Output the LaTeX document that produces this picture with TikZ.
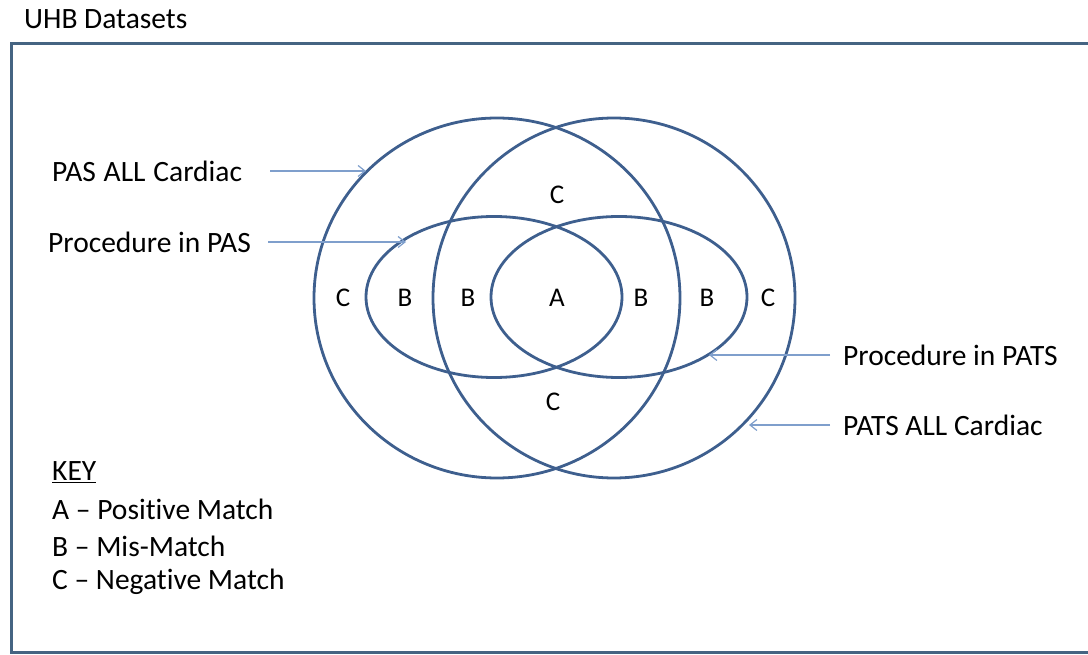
\documentclass[tikz,border=0pt]{standalone}
\usepackage{fontspec}
\setmainfont{Carlito}[Ligatures={NoCommon}]
\usetikzlibrary{arrows.meta,shapes.geometric}
\definecolor{vline}{HTML}{3E5F8E}
\definecolor{frameblue}{HTML}{456482}
\definecolor{arrblue}{HTML}{7F9FCC}
\begin{document}
\begin{tikzpicture}[x=1pt,y=-1pt,
  venn/.style={draw=vline,line width=2.8pt,ellipse,inner sep=0pt},
  lbl/.style={font=\fontsize{29.5}{34}\selectfont,anchor=west,inner sep=0pt},
  reg/.style={font=\fontsize{27}{30}\selectfont,inner sep=0pt},
  pointer/.style={draw=arrblue,line width=1.2pt,-{Straight Barb[length=7pt,width=11pt]}}]
\useasboundingbox (0,0) rectangle (1088,655);
\draw[frameblue,line width=3pt] (1095,44) -- (11,44) -- (11,652) -- (1095,652);
\node[lbl] (title) at (24,19) {UHB Datasets};
% Venn ellipses
\node[venn,minimum width=366pt,minimum height=360pt] (pasall) at (497,298) {};
\node[venn,minimum width=362pt,minimum height=360pt] (patsall) at (614,298) {};
\node[venn,minimum width=256pt,minimum height=161pt] (procpas) at (494,297) {};
\node[venn,minimum width=256pt,minimum height=161pt] (procpats) at (619,297) {};
% region labels
\node[reg] (ctop) at (557,195) {C};
\node[reg] (cbot) at (553,402) {C};
\node[reg] (c1) at (343,298) {C};
\node[reg] (b1) at (405,298) {B};
\node[reg] (b2) at (468,298) {B};
\node[reg] (a) at (557,298) {A};
\node[reg] (b3) at (641,298) {B};
\node[reg] (b4) at (707,298) {B};
\node[reg] (c2) at (768,298) {C};
% side labels
\node[lbl] (l1) at (52,171) {PAS\hspace{0.04em} ALL\hspace{0.04em} Cardiac};
\node[lbl] (l2) at (48,242) {Procedure in PAS};
\node[lbl] (l3) at (843,355) {Procedure in PATS};
\node[lbl] (l4) at (843,425) {PATS ALL Cardiac};
\coordinate (t1) at (366,171);
\coordinate (t2) at (406,242);
\coordinate (t3) at (709,355);
\coordinate (t4) at (749,425);
\draw[pointer] ([xshift=28pt]l1.east) -- (t1);
\draw[pointer] ([xshift=17pt]l2.east) -- (t2);
\draw[pointer] ([xshift=-13pt]l3.west) -- (t3);
\draw[pointer] ([xshift=-13pt]l4.west) -- (t4);
% key
\node[lbl] (key) at (52,472) {\underline{KEY}};
\node[lbl] (ka) at (52,509) {A – Positive Match};
\node[lbl] (kb) at (52,546) {B – Mis-Match};
\node[lbl] (kc) at (52,582) {C – Negative Match};
\end{tikzpicture}
\end{document}
